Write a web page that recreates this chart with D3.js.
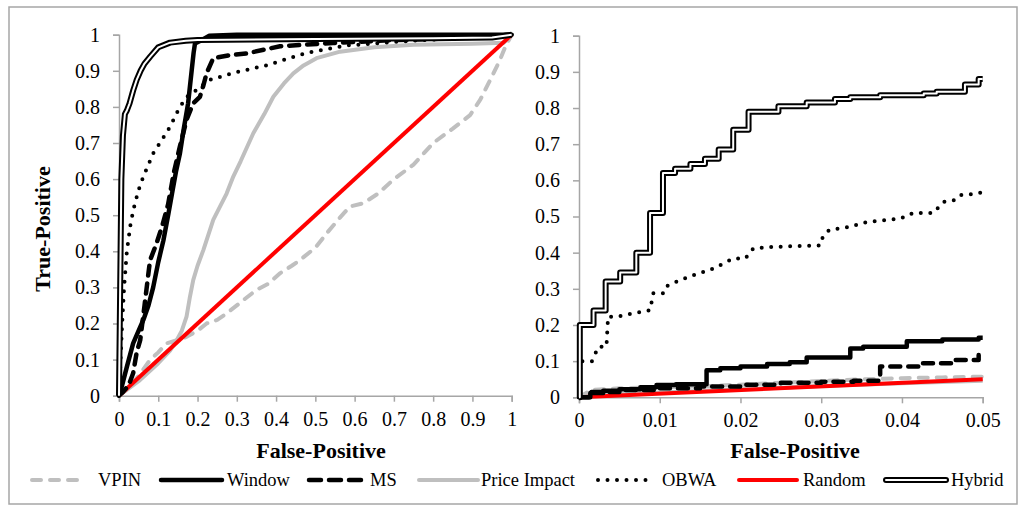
<!DOCTYPE html>
<html><head><meta charset="utf-8">
<script src="https://cdn.jsdelivr.net/npm/d3@7"></script>
<style>body{margin:0;background:#fff}svg{display:block}text{font-family:"Liberation Serif","Times New Roman",Times,serif}</style>
</head><body><svg id="c" width="1024" height="510"></svg>
<script>
// ---------- DATA ----------
const seriesNames = ["VPIN","Window","MS","Price Impact","OBWA","Random","Hybrid"];
const yTickValues = [0,0.1,0.2,0.3,0.4,0.5,0.6,0.7,0.8,0.9,1];
const yTickLabels = ["0","0.1","0.2","0.3","0.4","0.5","0.6","0.7","0.8","0.9","1"];
const xTickValuesL = [0,0.1,0.2,0.3,0.4,0.5,0.6,0.7,0.8,0.9,1];
const xTickLabelsL = ["0","0.1","0.2","0.3","0.4","0.5","0.6","0.7","0.8","0.9","1"];
const xTickValuesR = [0,0.01,0.02,0.03,0.04,0.05];
const xTickLabelsR = ["0","0.01","0.02","0.03","0.04","0.05"];
const xTitle = "False-Positive";
const yTitle = "True-Positive";

// Left panel (full ROC)
const vpinL = [[0,0],[0.03,0.03],[0.05,0.055],[0.079,0.099],[0.1,0.12],[0.121,0.145],[0.15,0.155],[0.172,0.163],[0.2,0.18],[0.223,0.2],[0.25,0.21],[0.274,0.228],[0.3,0.25],[0.317,0.265],[0.35,0.293],[0.38,0.31],[0.41,0.339],[0.44,0.36],[0.461,0.376],[0.5,0.41],[0.529,0.45],[0.56,0.49],[0.588,0.524],[0.622,0.533],[0.66,0.56],[0.7,0.6],[0.75,0.64],[0.8,0.7],[0.85,0.74],[0.894,0.777],[0.92,0.82],[0.945,0.874],[0.97,0.93],[0.985,0.97],[1,1]];
const windowL = [[0,0],[0.007,0.025],[0.02,0.08],[0.036,0.145],[0.05,0.18],[0.062,0.21],[0.075,0.25],[0.087,0.3],[0.1,0.37],[0.113,0.43],[0.126,0.505],[0.135,0.56],[0.145,0.62],[0.155,0.67],[0.165,0.74],[0.176,0.81],[0.185,0.9],[0.19,0.95],[0.1935,0.976],[0.21,0.985],[0.23,0.997],[0.3,1],[1,1]];
const msL = [[0,0],[0.01,0.01],[0.025,0.03],[0.036,0.062],[0.045,0.12],[0.054,0.154],[0.065,0.25],[0.079,0.375],[0.095,0.42],[0.11,0.47],[0.125,0.53],[0.14,0.62],[0.155,0.69],[0.172,0.764],[0.189,0.81],[0.206,0.828],[0.215,0.86],[0.223,0.893],[0.24,0.935],[0.28,0.943],[0.325,0.948],[0.41,0.968],[0.545,0.977],[0.7,0.985],[0.85,0.99],[1,1]];
const priceL = [[0,0],[0.05,0.04],[0.1,0.09],[0.13,0.125],[0.147,0.154],[0.16,0.18],[0.172,0.219],[0.18,0.27],[0.189,0.32],[0.2,0.36],[0.215,0.404],[0.24,0.487],[0.26,0.53],[0.274,0.56],[0.291,0.607],[0.31,0.65],[0.342,0.727],[0.37,0.78],[0.393,0.828],[0.42,0.865],[0.444,0.893],[0.47,0.915],[0.503,0.935],[0.563,0.953],[0.65,0.965],[0.75,0.972],[0.9,0.975],[0.98,0.978],[1,1]];
const obwaL = [[0,0],[0.004,0.1],[0.008,0.2],[0.013,0.3],[0.02,0.4],[0.03,0.48],[0.04,0.53],[0.05,0.57],[0.062,0.607],[0.087,0.671],[0.11,0.71],[0.13,0.745],[0.155,0.8],[0.175,0.83],[0.198,0.847],[0.232,0.875],[0.29,0.894],[0.376,0.915],[0.478,0.95],[0.58,0.97],[0.7,0.98],[0.85,0.99],[1,1]];
const randomL = [[0,0],[1,1]];
const hybridL = [[0,0],[0.003,0.3],[0.006,0.6],[0.01,0.72],[0.015,0.78],[0.02,0.79],[0.027,0.81],[0.036,0.845],[0.045,0.875],[0.055,0.9],[0.065,0.92],[0.08,0.94],[0.1,0.965],[0.13,0.978],[0.17,0.983],[0.2,0.985],[0.5,0.988],[0.8,0.99],[0.95,0.992],[1,1]];

// Right panel (zoom on FP <= 0.05)
const vpinR = [[0,0],[0.0015,0.02],[0.005,0.025],[0.01,0.028],[0.015,0.03],[0.02,0.035],[0.025,0.04],[0.03,0.045],[0.035,0.05],[0.04,0.053],[0.045,0.055],[0.05,0.057]];
const windowR = [[0,0],[0.0014,0.012],[0.003,0.018],[0.005,0.022],[0.0076,0.028],[0.0096,0.034],[0.012,0.036],[0.0158,0.075],[0.0175,0.08],[0.02,0.085],[0.0233,0.092],[0.0261,0.097],[0.0282,0.11],[0.0336,0.135],[0.0352,0.14],[0.0406,0.155],[0.045,0.16],[0.0495,0.165],[0.05,0.165]];
const msR = [[0,0],[0.0015,0.015],[0.005,0.02],[0.01,0.025],[0.015,0.03],[0.02,0.035],[0.025,0.04],[0.03,0.043],[0.034,0.046],[0.0373,0.085],[0.0423,0.094],[0.0464,0.103],[0.0495,0.12],[0.05,0.12]];
const priceR = [[0,0],[0.0015,0.008],[0.01,0.013],[0.02,0.022],[0.03,0.031],[0.04,0.039],[0.05,0.046]];
const obwaR = [[0,0],[0.0002,0.1],[0.0016,0.1],[0.0024,0.14],[0.0034,0.14],[0.0036,0.223],[0.0047,0.223],[0.0067,0.232],[0.0088,0.241],[0.0092,0.288],[0.0104,0.288],[0.0107,0.306],[0.0125,0.324],[0.0142,0.338],[0.0162,0.352],[0.0179,0.37],[0.0191,0.384],[0.0206,0.384],[0.0216,0.412],[0.0241,0.416],[0.0299,0.42],[0.0302,0.444],[0.031,0.463],[0.0332,0.47],[0.0357,0.485],[0.0398,0.494],[0.0414,0.51],[0.0439,0.51],[0.0451,0.54],[0.0464,0.545],[0.0471,0.559],[0.0489,0.562],[0.05,0.567]];
const randomR = [[0,0],[0.05,0.05]];
const hybridR = [[0,0],[0.0001,0.2],[0.0018,0.24],[0.0033,0.32],[0.0051,0.345],[0.0071,0.40],[0.0088,0.51],[0.0104,0.62],[0.0119,0.632],[0.0138,0.645],[0.0156,0.66],[0.0173,0.685],[0.0191,0.74],[0.021,0.79],[0.0247,0.805],[0.0282,0.815],[0.0317,0.825],[0.0336,0.83],[0.0373,0.835],[0.0427,0.84],[0.0443,0.845],[0.0478,0.865],[0.0495,0.88],[0.05,0.88]];

// ---------- STYLES ----------
const GRAY = "#bfbfbf", AXIS = "#a6a6a6";
const styles = {
  "VPIN":        {stroke:GRAY, width:4, dash:"9,9", cap:"round"},
  "Window":      {stroke:"#000", width:4.5, dash:null, cap:"butt"},
  "MS":          {stroke:"#000", width:4.5, dash:"10,8", cap:"round"},
  "Price Impact":{stroke:GRAY, width:4, dash:null, cap:"butt"},
  "OBWA":        {stroke:"#000", width:4, dash:"0,9.5", cap:"round"},
  "Random":      {stroke:"#ff0000", width:4, dash:null, cap:"butt"},
  "Hybrid":      {stroke:"#000", width:6, dash:null, cap:"butt", inner:"#fff", innerWidth:2}
};
const FONT = '"Liberation Serif","Times New Roman",Times,serif';

const svg = d3.select("#c");
svg.append("rect").attr("x",9).attr("y",7).attr("width",1008).attr("height",497)
  .attr("fill","#fff").attr("stroke",AXIS).attr("stroke-width",1.5);

function panel(xs, ys, data, xVals, xLabs, stepSet, titleX){
  const g = svg.append("g");
  const yAx = d3.axisLeft(ys).tickValues(yTickValues).tickFormat((d,i)=>yTickLabels[i]).tickSizeOuter(0).tickSize(6).tickPadding(13);
  const xAx = d3.axisBottom(xs).tickValues(xVals).tickFormat((d,i)=>xLabs[i]).tickSizeOuter(0).tickSize(6).tickPadding(10);
  const ya = g.append("g").attr("transform",`translate(${xs.range()[0]},0)`).call(yAx);
  const xa = g.append("g").attr("transform",`translate(0,${ys.range()[0]})`).call(xAx);
  [ya,xa].forEach(a=>{
    a.attr("font-family",null).attr("font-size",null);
    a.selectAll("path,line").attr("stroke",AXIS).attr("stroke-width",1.5);
    a.selectAll("text").style("font-family",FONT).style("font-size","20px").attr("fill","#000");
  });
  xa.selectAll("text").attr("dy","0.71em");
  g.append("text").attr("x",titleX).attr("y",458).attr("text-anchor","middle")
    .style("font-family",FONT).style("font-weight","bold").style("font-size","22px").text(xTitle);
  const order = ["VPIN","Price Impact","Random","MS","Window","OBWA","Hybrid"];
  order.forEach(name=>{
    const st = styles[name];
    const line = d3.line().x(d=>xs(d[0])).y(d=>ys(d[1]))
      .curve(stepSet.includes(name)? d3.curveStepAfter : d3.curveLinear);
    const p = g.append("path").attr("d",line(data[name])).attr("fill","none")
      .attr("stroke",st.stroke).attr("stroke-width",st.width).attr("stroke-linecap",st.cap)
      .attr("stroke-linejoin","round");
    if(st.dash) p.attr("stroke-dasharray",st.dash);
    if(st.inner) g.append("path").attr("d",line(data[name])).attr("fill","none")
      .attr("stroke",st.inner).attr("stroke-width",st.innerWidth).attr("stroke-linejoin","round");
  });
}

const xL = d3.scaleLinear([0,1],[119,511.7]);
const yL = d3.scaleLinear([0,1],[395.7,34.7]);
const xR = d3.scaleLinear([0,0.05],[579,982.7]);
const yR = d3.scaleLinear([0,1],[397.3,35.7]);

panel(xL,yL,{"VPIN":vpinL,"Window":windowL,"MS":msL,"Price Impact":priceL,"OBWA":obwaL,"Random":randomL,"Hybrid":hybridL},
      xTickValuesL,xTickLabelsL,[],321);
panel(xR,yR,{"VPIN":vpinR,"Window":windowR,"MS":msR,"Price Impact":priceR,"OBWA":obwaR,"Random":randomR,"Hybrid":hybridR},
      xTickValuesR,xTickLabelsR,["Window","MS","Hybrid"],795);

svg.append("text").attr("transform","translate(50,229) rotate(-90)").attr("text-anchor","middle")
  .style("font-family",FONT).style("font-weight","bold").style("font-size","22px").text(yTitle);

// ---------- LEGEND ----------
const legendLayout = [[32,84,98],[161,222,227],[309,362,370],[419,478,481],[598,648,662],[739,797,803],[886,946,951]];
const lg = svg.append("g");
seriesNames.forEach((name,i)=>{
  const st = styles[name]; const [x1,x2,tx] = legendLayout[i]; const y = 480;
  const l = lg.append("line").attr("x1",x1).attr("x2",x2).attr("y1",y).attr("y2",y)
    .attr("stroke",st.stroke).attr("stroke-width",st.width).attr("stroke-linecap",st.cap==="butt"?"round":st.cap);
  if(st.dash) l.attr("stroke-dasharray",name==="MS"?"12,8":st.dash);
  if(st.inner) lg.append("line").attr("x1",x1).attr("x2",x2).attr("y1",y).attr("y2",y)
    .attr("stroke",st.inner).attr("stroke-width",st.innerWidth).attr("stroke-linecap","round");
  lg.append("text").attr("x",tx).attr("y",486).style("font-family",FONT).style("font-size","18.5px").text(name);
});
</script></body></html>
